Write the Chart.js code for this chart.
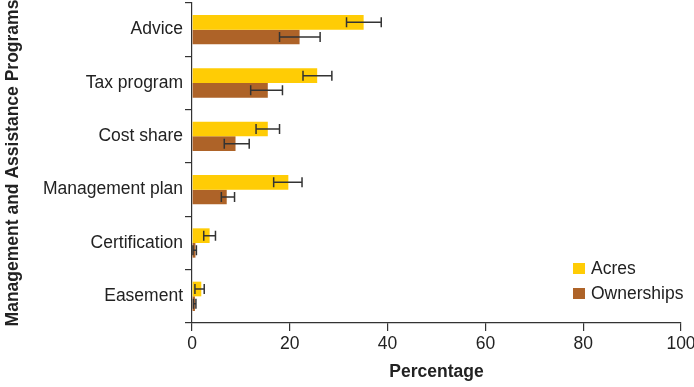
<!DOCTYPE html>
<html>
<head>
<meta charset="utf-8">
<script src="https://cdn.jsdelivr.net/npm/chart.js@4/dist/chart.umd.min.js"></script>
<style>
  html,body{margin:0;padding:0;background:#fff;}
  #wrap{position:relative;width:694px;height:387px;}
</style>
</head>
<body>
<div id="wrap"><canvas id="c" width="694" height="387"></canvas></div>
<script>
const categories = ['Advice','Tax program','Cost share','Management plan','Certification','Easement'];
const acres      = [35.1, 25.6, 15.5, 19.7, 3.6, 1.9];
const acresLow   = [31.6, 22.7, 13.1, 16.7, 2.4, 0.6];
const acresHigh  = [38.7, 28.6, 17.9, 22.5, 4.8, 2.5];
const owners     = [22.0, 15.5, 8.9, 7.1, 0.7, 0.6];
const ownersLow  = [17.9, 12.0, 6.6, 6.0, 0.2, 0.3];
const ownersHigh = [26.2, 18.5, 11.7, 8.7, 0.9, 0.8];
const xTicks = [0, 20, 40, 60, 80, 100];
const seriesNames = ['Acres', 'Ownerships'];
const seriesColors = ['#FFCC05', '#AE6328'];

const FONT = "'Liberation Sans', Arial, Helvetica, sans-serif";
const FS = 17.5;

const errorBars = {
  id: 'errorBars',
  afterDatasetsDraw(chart) {
    const ctx = chart.ctx;
    const xs = chart.scales.x;
    const lows = [acresLow, ownersLow], highs = [acresHigh, ownersHigh];
    ctx.save();
    ctx.strokeStyle = '#333';
    ctx.lineWidth = 1.5;
    chart.data.datasets.forEach((ds, di) => {
      const meta = chart.getDatasetMeta(di);
      meta.data.forEach((el, i) => {
        const y = el.y;
        const x1 = xs.getPixelForValue(lows[di][i]);
        const x2 = xs.getPixelForValue(highs[di][i]);
        ctx.beginPath();
        ctx.moveTo(x1, y); ctx.lineTo(x2, y);
        ctx.moveTo(x1, y - 5); ctx.lineTo(x1, y + 5);
        ctx.moveTo(x2, y - 5); ctx.lineTo(x2, y + 5);
        ctx.stroke();
      });
    });
    ctx.restore();
  }
};

const legendInside = {
  id: 'legendInside',
  afterDraw(chart) {
    const ctx = chart.ctx;
    ctx.save();
    ctx.font = FS + 'px ' + FONT;
    ctx.textBaseline = 'middle';
    const ys = [268.5, 293.5];
    seriesNames.forEach((n, i) => {
      ctx.fillStyle = seriesColors[i];
      ctx.fillRect(573, ys[i] - 5.5, 12, 11);
      ctx.fillStyle = '#222';
      ctx.fillText(n, 591, ys[i] + 1);
    });
    ctx.restore();
  }
};

new Chart(document.getElementById('c'), {
  type: 'bar',
  data: {
    labels: categories,
    datasets: [
      { label: seriesNames[0], data: acres, backgroundColor: seriesColors[0], categoryPercentage: 0.55, barPercentage: 1.0 },
      { label: seriesNames[1], data: owners, backgroundColor: seriesColors[1], categoryPercentage: 0.55, barPercentage: 1.0 }
    ]
  },
  options: {
    indexAxis: 'y',
    responsive: false,
    animation: false,
    devicePixelRatio: 1,
    layout: { padding: { top: 3, right: 0, left: 0, bottom: 0 } },
    plugins: { legend: { display: false }, tooltip: { enabled: false } },
    scales: {
      x: {
        min: 0, max: 100,
        afterBuildTicks(scale) { scale.ticks = xTicks.map(v => ({ value: v })); },
        afterFit(scale) { scale.height = 64; scale.paddingLeft = 0; scale.paddingRight = 13; },
        grid: { drawOnChartArea: false, drawTicks: true, tickLength: 8, color: '#333', lineWidth: 1.2 },
        border: { display: true, color: '#333', width: 1.2 },
        ticks: { color: '#222', font: { family: FONT, size: FS }, padding: 3, maxRotation: 0 },
        title: { display: true, text: 'Percentage', color: '#222', font: { family: FONT, size: FS, weight: 'bold' }, padding: { top: 0, bottom: 4 } }
      },
      y: {
        afterFit(scale) { scale.width = 192; scale.paddingTop = 0; scale.paddingBottom = 0; },
        grid: { drawOnChartArea: false, drawTicks: true, tickLength: 7, color: '#333', lineWidth: 1.2, offset: true },
        border: { display: true, color: '#333', width: 1.2 },
        ticks: { color: '#222', font: { family: FONT, size: FS }, padding: 2 },
        title: { display: true, text: 'Management and Assistance Programs', color: '#222', font: { family: FONT, size: FS, weight: 'bold' }, padding: { top: 3, bottom: 0 } }
      }
    }
  },
  plugins: [errorBars, legendInside]
});
</script>
</body>
</html>
